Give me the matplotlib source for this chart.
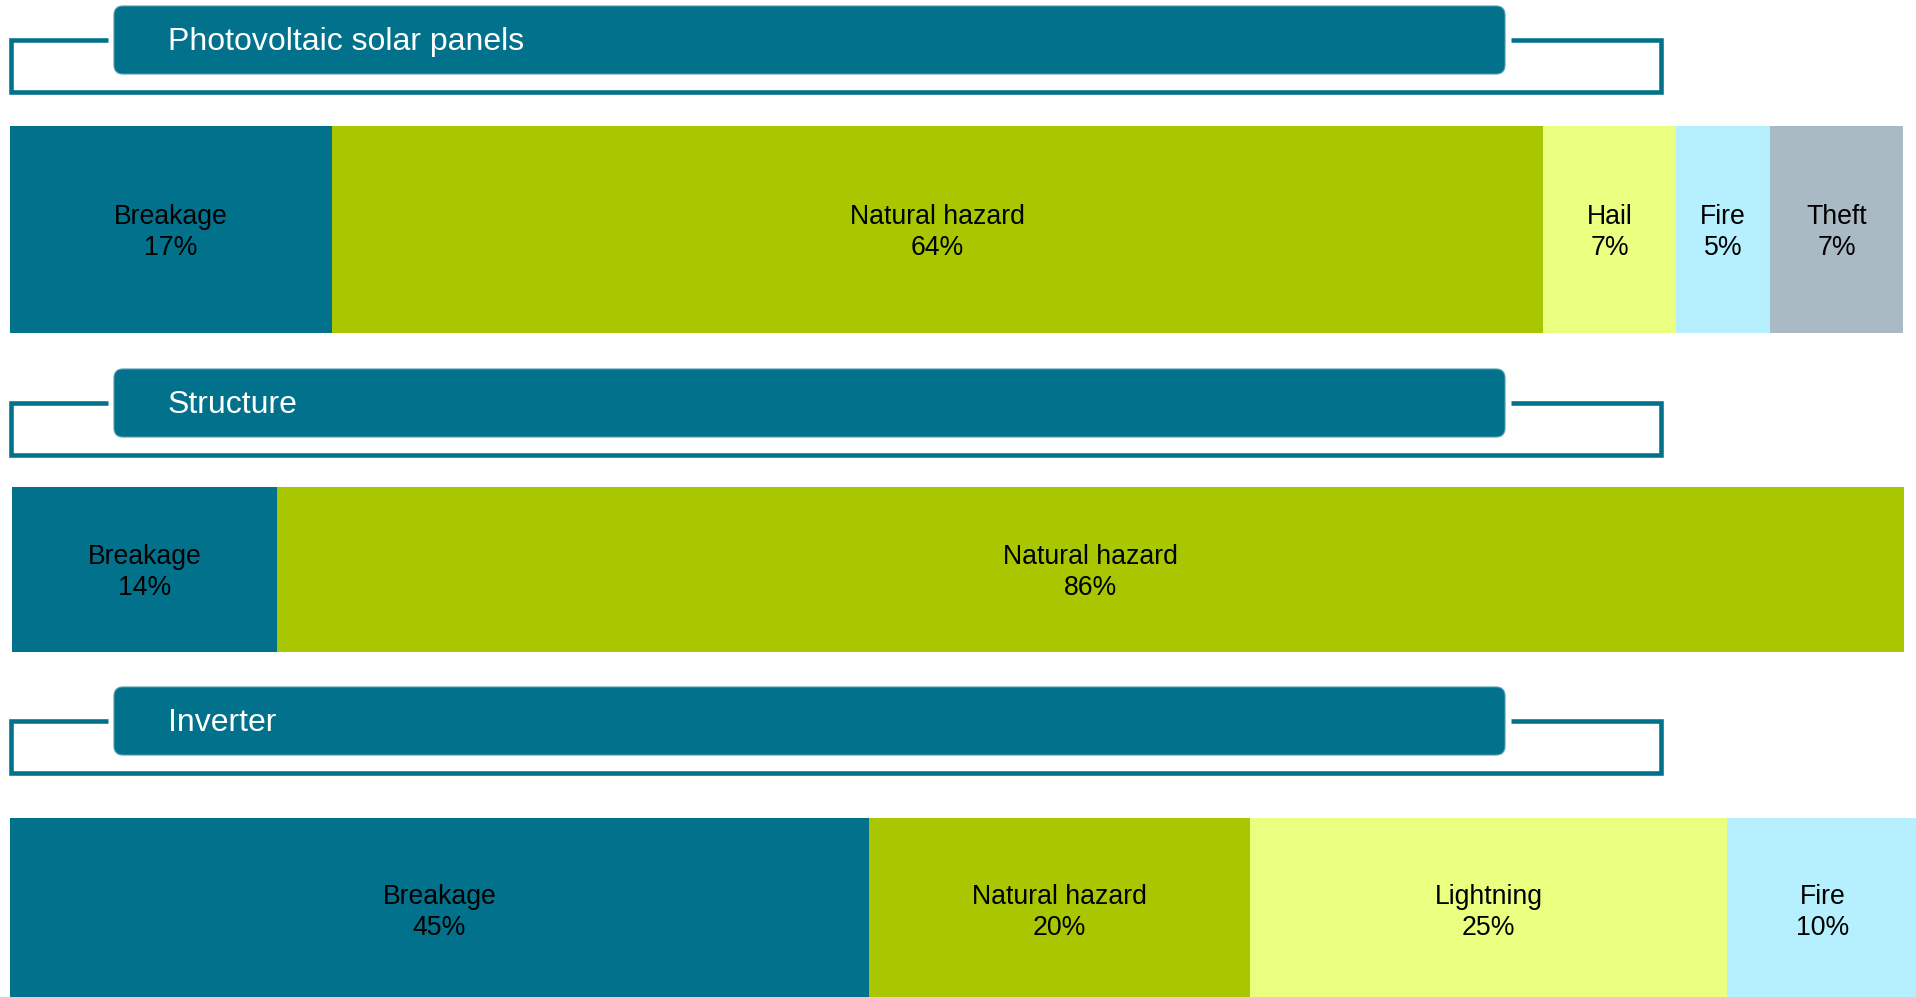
import matplotlib
matplotlib.use("Agg")
import matplotlib.pyplot as plt
from matplotlib.patches import FancyBboxPatch

# DATA
section_titles = ["Photovoltaic solar panels", "Structure", "Inverter"]

panel_causes = ["Breakage", "Natural hazard", "Hail", "Fire", "Theft"]
panel_shares = [17, 64, 7, 5, 7]

structure_causes = ["Breakage", "Natural hazard"]
structure_shares = [14, 86]

inverter_causes = ["Breakage", "Natural hazard", "Lightning", "Fire"]
inverter_shares = [45, 20, 25, 10]

# STYLE
W, H = 1916, 997
TEAL = "#02728C"
cause_colors = {
    "Breakage": TEAL,
    "Natural hazard": "#A8C700",
    "Hail": "#EAFF80",
    "Lightning": "#EAFF80",
    "Fire": "#B6EFFD",
    "Theft": "#AABAC4",
}
FONT = ["Liberation Sans", "DejaVu Sans"]

fig = plt.figure(figsize=(W / 100, H / 100), dpi=100)
fig.patch.set_facecolor("white")

# background axes in pixel units for the section banners
bg = fig.add_axes([0, 0, 1, 1])
bg.set_xlim(0, W)
bg.set_ylim(H, 0)
bg.axis("off")


def draw_banner(top, title):
    # bracket outline behind the banner
    y_top = top + 34
    y_bot = top + 86
    bg.plot([108, 11, 11, 1661, 1661, 1511],
             [y_top, y_top, y_bot, y_bot, y_top, y_top],
             color=TEAL, lw=3.3, solid_joinstyle="miter", solid_capstyle="butt")
    box = FancyBboxPatch((114, top), 1391, 68,
                         boxstyle="round,pad=0,rounding_size=9",
                         facecolor=TEAL, edgecolor="#4D9AAE", lw=0.8, zorder=3)
    bg.add_patch(box)
    bg.text(168, top + 36, title, color="white", fontsize=23, family=FONT,
            ha="left", va="center", zorder=4)


def draw_bar(x0, x1, y0, y1, causes, shares):
    ax = fig.add_axes([x0 / W, 1 - y1 / H, (x1 - x0) / W, (y1 - y0) / H])
    left = 0
    for cause, share in zip(causes, shares):
        ax.barh(0, share, left=left, height=1, color=cause_colors[cause],
                edgecolor="none")
        ax.annotate(f"{cause}\n{share}%", (left + share / 2, 0),
                    xytext=(0, -2), textcoords="offset points",
                    ha="center", va="center", fontsize=19.2, family=FONT,
                    linespacing=1.24, color="black")
        left += share
    ax.set_xlim(0, sum(shares))
    ax.set_ylim(-0.5, 0.5)
    ax.axis("off")


banner_tops = [6, 369, 687]
for top, title in zip(banner_tops, section_titles):
    draw_banner(top, title)

draw_bar(10, 1903, 126, 333, panel_causes, panel_shares)
draw_bar(12, 1904, 487, 652, structure_causes, structure_shares)
draw_bar(10, 1918, 818, 1002, inverter_causes, inverter_shares)

fig.savefig("out.png", dpi=100, facecolor="white")
